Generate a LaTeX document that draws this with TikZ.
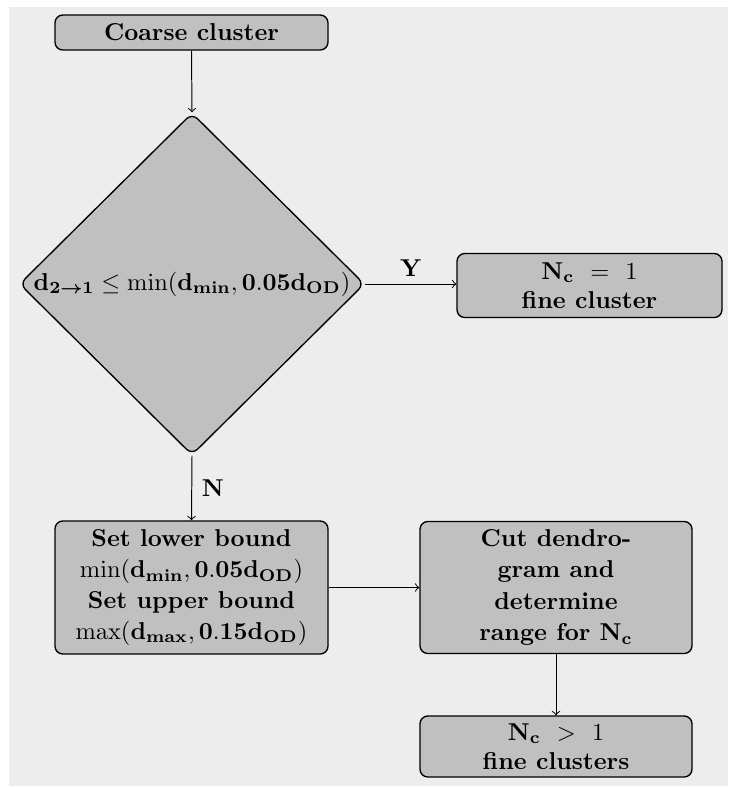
\documentclass[tikz,border=0pt]{standalone}
\usepackage{amsmath}
\usetikzlibrary{shapes.geometric}
\definecolor{bgc}{RGB}{237,237,237}
\definecolor{boxc}{RGB}{192,192,192}
\tikzset{
  flowbox/.style={draw=black, fill=boxc, rounded corners=3.2pt, line width=0.55pt,
    align=center, font=\bfseries, inner sep=1pt},
  decbox/.style={draw=black, fill=boxc, diamond, aspect=1, rounded corners=3.2pt,
    line width=0.55pt, inner sep=0pt, font=\bfseries},
  flowarrow/.style={->, line width=0.4pt},
  edgelabel/.style={font=\bfseries, inner sep=1pt}
}
\begin{document}
\begin{tikzpicture}[x=0.41pt,y=-0.41pt]
\useasboundingbox (0,0) rectangle (728,787);
\fill[bgc] (9,7) rectangle (728,786);

\node[flowbox, minimum width=273*0.41pt, minimum height=35*0.41pt] (coarse) at (191.5,32.5) {Coarse cluster};

\node[decbox, minimum width=345*0.41pt, minimum height=342*0.41pt] (dec) at (192,284)
  {\makebox[0pt]{$\mathbf{d}_{\mathbf{2}\boldsymbol{\rightarrow}\mathbf{1}}\leq\min(\mathbf{d_{min}},\mathbf{0.05d_{OD}})$}};

\node[flowbox, minimum width=265*0.41pt, minimum height=64*0.41pt] (one) at (589.5,285.5)
  {$\mathbf{N_c}\ =\ 1$\\fine cluster};

\node[flowbox, minimum width=273*0.41pt, minimum height=133*0.41pt, execute at begin node={\setlength{\baselineskip}{12.6pt}}] (bounds) at (191.5,587.5)
  {Set lower bound\\$\min(\mathbf{d_{min}},\mathbf{0.05d_{OD}})$\\Set upper bound\\$\max(\mathbf{d_{max}},\mathbf{0.15d_{OD}})$};

\node[flowbox, minimum width=272*0.41pt, minimum height=132*0.41pt, execute at begin node={\setlength{\baselineskip}{12.8pt}}] (cut) at (556,587.5)
  {Cut dendro-\\gram and\\determine\\range for $\mathbf{N_c}$};

\node[flowbox, minimum width=272*0.41pt, minimum height=61*0.41pt] (many) at (556,746.5)
  {$\mathbf{N_c}\ >\ 1$\\fine clusters};

\draw[flowarrow] (coarse.south) -- (dec.north);
\draw[flowarrow] (dec.east) -- node[edgelabel, above=2pt] (ylab) {Y} (dec.east -| one.west);
\draw[flowarrow] (dec.south) -- node[edgelabel, right=3pt] (nlab) {N} (bounds.north);
\draw[flowarrow] (bounds.east) -- (cut.west);
\draw[flowarrow] (cut.south) -- (many.north);
\end{tikzpicture}
\end{document}
